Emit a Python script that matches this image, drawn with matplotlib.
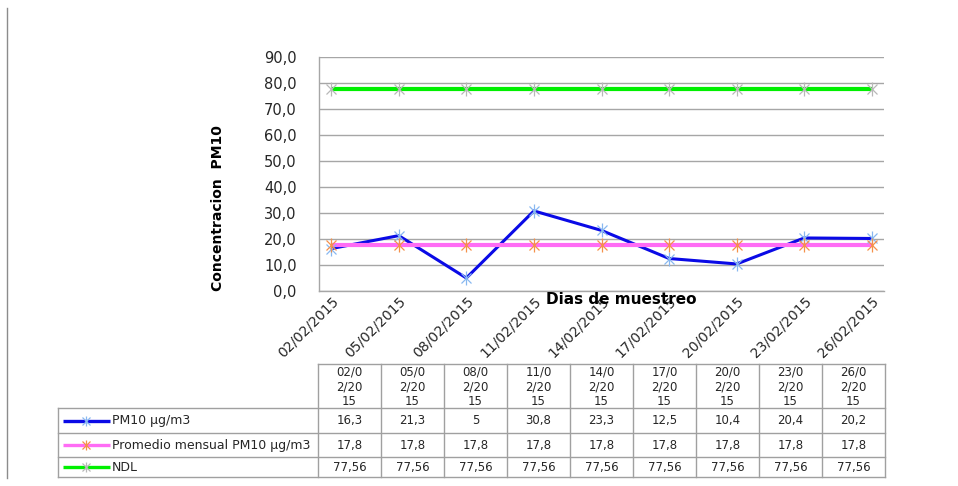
import matplotlib
matplotlib.use('Agg')
import matplotlib.pyplot as plt
from matplotlib.transforms import ScaledTranslation

dates = ['02/02/2015', '05/02/2015', '08/02/2015', '11/02/2015', '14/02/2015',
         '17/02/2015', '20/02/2015', '23/02/2015', '26/02/2015']
pm10 = [16.3, 21.3, 5, 30.8, 23.3, 12.5, 10.4, 20.4, 20.2]
promedio = [17.8, 17.8, 17.8, 17.8, 17.8, 17.8, 17.8, 17.8, 17.8]
ndl = [77.56, 77.56, 77.56, 77.56, 77.56, 77.56, 77.56, 77.56, 77.56]
series_names = ['PM10 µg/m3', 'Promedio mensual PM10 µg/m3', 'NDL']
y_ticks = [0, 10, 20, 30, 40, 50, 60, 70, 80, 90]

LINE_COLORS = ['#0a0ae6', '#ff6cf5', '#00f000']
MARK_COLORS = ['#88b8f0', '#f5914a', '#b8b8b8']
LINE_WIDTHS = [2.2, 3.0, 3.0]
GRID = '#a6a6a6'
TEXT = '#262626'

W, H = 958, 486
fig = plt.figure(figsize=(W / 100, H / 100), dpi=100)
fig.patch.set_facecolor('white')


def px(x0, y0, x1, y1):
    # pixel box -> figure fraction rect
    return [x0 / W, 1 - y1 / H, (x1 - x0) / W, (y1 - y0) / H]


def star(axis, x, y, color, size):
    axis.plot(x, y, linestyle='none', marker='x', markersize=size * 0.75,
              markeredgecolor=color, markeredgewidth=0.9, zorder=4)
    axis.plot(x, y, linestyle='none', marker='|', markersize=size,
              markeredgecolor=color, markeredgewidth=0.9, zorder=4)


ax = fig.add_axes(px(319, 57, 884, 291))
xs = list(range(len(dates)))
all_series = [pm10, promedio, ndl]
for i, vals in enumerate(all_series):
    ax.plot(xs, vals, color=LINE_COLORS[i], linewidth=LINE_WIDTHS[i], zorder=3 + i * 0.1,
            solid_capstyle='butt')
    star(ax, xs, vals, MARK_COLORS[i], 10)

ax.set_ylim(0, 90)
ax.set_xlim(-0.18, len(dates) - 1 + 0.18)
ax.set_yticks(y_ticks)
ax.set_yticklabels(['%d,0' % v for v in y_ticks], fontsize=10.5, color=TEXT)
ax.set_xticks(xs)
ax.set_xticklabels(dates, rotation=45, ha='right', va='top', rotation_mode='anchor',
                   fontsize=10, color=TEXT)
shift = ScaledTranslation(-6 / 100, -4 / 100, fig.dpi_scale_trans)
for lab in ax.get_xticklabels():
    lab.set_transform(lab.get_transform() + shift)
ax.tick_params(axis='both', length=0)
ax.tick_params(axis='x', pad=2)
ax.tick_params(axis='y', pad=16)
ax.grid(axis='y', color=GRID, linewidth=1)
ax.set_axisbelow(True)
for s in ['top', 'right']:
    ax.spines[s].set_visible(False)
for s in ['left', 'bottom']:
    ax.spines[s].set_color(GRID)
    ax.spines[s].set_linewidth(1)

# overlay in pixel coordinates for titles and data table
ov = fig.add_axes([0, 0, 1, 1], zorder=5)
ov.set_xlim(0, W)
ov.set_ylim(H, 0)
ov.axis('off')
ov.patch.set_alpha(0)

ov.text(218, 208, 'Concentracion  PM10', rotation=90, ha='center', va='center',
        fontsize=10, fontweight='bold', color='black')
ov.text(621, 299, 'Dias de muestreo', ha='center', va='center',
        fontsize=11, fontweight='bold', color='black')

# left frame line
ov.plot([7, 7], [8, 478], color='#8c8c8c', linewidth=1)

# data table
tbl_left, tbl_x0, tbl_x1 = 58, 318, 885
col_w = (tbl_x1 - tbl_x0) / len(dates)
rows_y = [364, 408, 433, 457, 477]
bc = '#a0a0a0'
for y in rows_y:
    ov.plot([tbl_left if y >= 408 else tbl_x0, tbl_x1], [y, y], color=bc, linewidth=1)
ov.plot([tbl_left, tbl_left], [408, 477], color=bc, linewidth=1)
for j in range(len(dates) + 1):
    x = tbl_x0 + j * col_w
    ov.plot([x, x], [364, 477], color=bc, linewidth=1)

for j, d in enumerate(dates):
    cx = tbl_x0 + (j + 0.5) * col_w
    parts = [d[0:4], d[4:8], d[8:]]
    for k, p in enumerate(parts):
        ov.text(cx, 372 + k * 14.5, p, ha='center', va='center', fontsize=8.5, color=TEXT)


def fmt(v):
    s = ('%g' % v).replace('.', ',')
    return s


for i, vals in enumerate(all_series):
    cy = (rows_y[i + 1] + rows_y[i + 2]) / 2
    ov.plot([63, 110], [cy, cy], color=LINE_COLORS[i], linewidth=2.4, solid_capstyle='butt')
    star(ov, [86], [cy], MARK_COLORS[i], 7)
    ov.text(112, cy, series_names[i], ha='left', va='center', fontsize=9, color=TEXT)
    for j, v in enumerate(vals):
        cx = tbl_x0 + (j + 0.5) * col_w
        ov.text(cx, cy, fmt(v), ha='center', va='center', fontsize=8.5, color=TEXT)

fig.savefig('out.png', dpi=100)
